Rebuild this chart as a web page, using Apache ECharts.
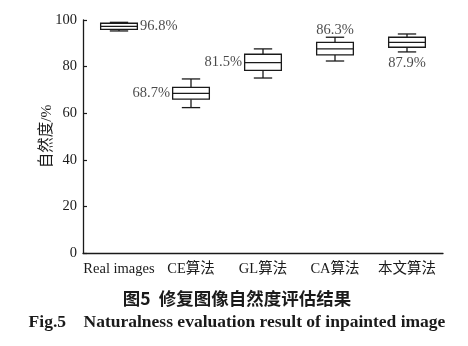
<!DOCTYPE html>
<html>
<head>
<meta charset="utf-8">
<script src="https://cdn.jsdelivr.net/npm/echarts@6/dist/echarts.min.js"></script>
<style>html,body{margin:0;padding:0;background:#fff;}#main{width:468px;height:346px;}</style>
</head>
<body>
<div id="main"></div>
<script>
// ---- data ----
const categories = ['Real images', 'CE算法', 'GL算法', 'CA算法', '本文算法'];
const whiskerMin = [95.3, 62.4, 75.1, 82.4, 86.3];
const quartile1  = [96.0, 66.0, 78.4, 85.0, 88.3];
const medians    = [97.3, 68.5, 81.7, 87.6, 90.4];
const quartile3  = [98.6, 71.1, 85.3, 90.4, 92.6];
const whiskerMax = [99.0, 74.7, 87.6, 92.6, 94.0];
const labelValues = [96.8, 68.7, 81.5, 86.3, 87.9];
const yTicks = [0, 20, 40, 60, 80, 100];
const yAxisName = '自然度/%';
const titleCN = '图5  修复图像自然度评估结果';
const titleEN = 'Fig.5    Naturalness evaluation result of inpainted image';

// ---- build ----
const INK = '#1a1a1a';
const SERIF = '"Liberation Serif","Times New Roman","Noto Sans CJK SC",serif';
const boxData = categories.map((c, i) => [i, whiskerMin[i], quartile1[i], medians[i], quartile3[i], whiskerMax[i]]);

const placement = ['right', 'left', 'left', 'top', 'bottom'];
const labelData = categories.map((c, i) => {
  const side = placement[i];
  const anchor = side === 'top' ? whiskerMax[i] : side === 'bottom' ? whiskerMin[i] : medians[i];
  const dist = side === 'top' ? 0 : side === 'bottom' ? 4 : 21;
  return {
    value: [i, anchor],
    label: { position: side, distance: dist, formatter: labelValues[i].toFixed(1) + '%' }
  };
});

function renderBox(params, api) {
  const x = api.value(0);
  const pMin = api.coord([x, api.value(1)]);
  const pQ1 = api.coord([x, api.value(2)]);
  const pMed = api.coord([x, api.value(3)]);
  const pQ3 = api.coord([x, api.value(4)]);
  const pMax = api.coord([x, api.value(5)]);
  const band = api.size([1, 0])[0];
  const hw = band * 0.255;
  const cw = hw * 0.5;
  const cx = pMed[0];
  const ls = { stroke: INK, lineWidth: 1.3, fill: null };
  return {
    type: 'group',
    children: [
      { type: 'line', shape: { x1: cx, y1: pQ3[1], x2: cx, y2: pMax[1] }, style: ls },
      { type: 'line', shape: { x1: cx, y1: pQ1[1], x2: cx, y2: pMin[1] }, style: ls },
      { type: 'line', shape: { x1: cx - cw, y1: pMax[1], x2: cx + cw, y2: pMax[1] }, style: ls },
      { type: 'line', shape: { x1: cx - cw, y1: pMin[1], x2: cx + cw, y2: pMin[1] }, style: ls },
      { type: 'rect', shape: { x: cx - hw, y: pQ3[1], width: hw * 2, height: pQ1[1] - pQ3[1] },
        style: { stroke: INK, lineWidth: 1.3, fill: '#fff' } },
      { type: 'line', shape: { x1: cx - hw, y1: pMed[1], x2: cx + hw, y2: pMed[1] }, style: ls }
    ]
  };
}

const chart = echarts.init(document.getElementById('main'), null, { renderer: 'canvas' });
chart.setOption({
  backgroundColor: '#ffffff',
  animation: false,
  grid: { left: 83, top: 20, right: 25, bottom: 93, containLabel: false },
  xAxis: {
    type: 'category',
    data: categories,
    boundaryGap: true,
    axisLine: { lineStyle: { color: INK, width: 1.3 } },
    axisTick: { inside: true, length: 4, alignWithLabel: true, lineStyle: { color: INK, width: 1.2 } },
    axisLabel: { color: INK, fontFamily: SERIF, fontSize: 14.5, margin: 9, interval: 0 },
    splitLine: { show: false }
  },
  yAxis: {
    type: 'value',
    min: yTicks[0],
    max: yTicks[yTicks.length - 1],
    interval: yTicks[1] - yTicks[0],
    name: yAxisName,
    nameLocation: 'middle',
    nameGap: 28,
    nameMoveOverlap: false,
    nameTextStyle: { color: INK, fontFamily: SERIF, fontSize: 15.5 },
    axisLine: { show: true, lineStyle: { color: INK, width: 1.3 } },
    axisTick: { show: true, inside: true, length: 4, lineStyle: { color: INK, width: 1.2 } },
    axisLabel: { color: INK, fontFamily: SERIF, fontSize: 14.5, margin: 6 },
    splitLine: { show: false }
  },
  series: [
    {
      type: 'custom',
      renderItem: renderBox,
      data: boxData,
      encode: { x: 0, y: [1, 2, 3, 4, 5] },
      z: 2
    },
    {
      type: 'scatter',
      symbolSize: 0,
      data: labelData,
      label: { show: true, color: INK, fontFamily: SERIF, fontSize: 14.5 },
      z: 3
    }
  ],
  graphic: [
    { type: 'text', x: 237, y: 298, style: { text: titleCN, textAlign: 'center', textVerticalAlign: 'middle',
      fill: INK, font: 'bold 17.5px "Noto Sans CJK SC", sans-serif' } },
    { type: 'text', x: 237, y: 322, style: { text: titleEN, textAlign: 'center', textVerticalAlign: 'middle',
      fill: INK, font: 'bold 17.5px "Liberation Serif", "Times New Roman", serif' } }
  ]
});
</script>
</body>
</html>
